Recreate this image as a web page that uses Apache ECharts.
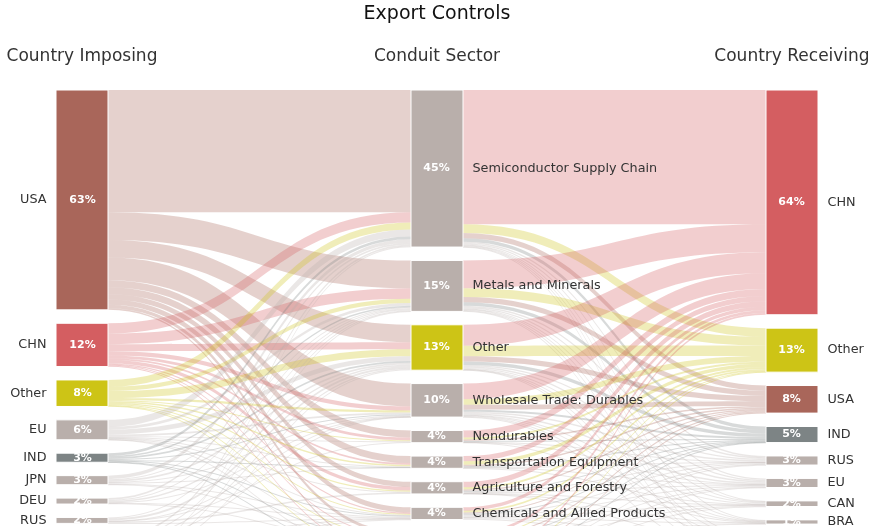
<!DOCTYPE html>
<html>
<head>
<meta charset="utf-8">
<script src="https://cdn.jsdelivr.net/npm/echarts@6/dist/echarts.min.js"></script>
<style>html,body{margin:0;padding:0;background:#fff}#c{width:874px;height:526px}</style>
</head>
<body>
<div id="c"></div>
<script>
// Column 1: country imposing (share, %)
const imposing = ['USA', 'CHN', 'Other', 'EU', 'IND', 'JPN', 'DEU', 'RUS', 'GBR', 'KOR'];
const imposingShare = [63, 12.4, 7.6, 5.7, 2.6, 2.6, 1.7, 1.7, 1.5, 1.2];
// Column 2: conduit sector
const sectors = ['Semiconductor Supply Chain', 'Metals and Minerals', 'Other', 'Wholesale Trade: Durables',
  'Nondurables', 'Transportation Equipment', 'Agriculture and Forestry', 'Chemicals and Allied Products',
  'Machinery', 'Computers and Electronics'];
const sectorShare = [45, 14.6, 13, 9.6, 3.5, 3.5, 3.5, 3.5, 2.2, 1.6];
// Column 3: country receiving
const receiving = ['CHN', 'Other', 'USA', 'IND', 'RUS', 'EU', 'CAN', 'BRA', 'IRN', 'PRK'];
const receivingShare = [64.4, 12.6, 7.9, 4.6, 2.6, 2.6, 1.6, 1.2, 1.4, 1.1];

// Flows imposing -> sector (rows: imposing, cols: sectors)
const flowImpSec = [
  [35, 8, 5, 6.5, 2, 2, 1.5, 1.5, 1, 0.5],
  [3, 3, 2, 1.2, 0.8, 0.5, 1, 0.4, 0.3, 0.2],
  [2, 1.2, 2, 0.6, 0.3, 0.4, 0.4, 0.3, 0.2, 0.2],
  [2, 0.8, 1.4, 0.5, 0.2, 0.2, 0.2, 0.2, 0.1, 0.1],
  [0.8, 0.4, 0.5, 0.3, 0, 0.1, 0, 0.3, 0.1, 0.1],
  [1, 0.3, 0.5, 0.2, 0, 0.3, 0, 0.2, 0.1, 0],
  [0.5, 0.3, 0.4, 0.1, 0, 0, 0, 0.2, 0.2, 0],
  [0, 0.3, 0.6, 0.1, 0.2, 0, 0.4, 0.1, 0, 0],
  [0.5, 0.2, 0.3, 0.1, 0, 0, 0, 0.2, 0.1, 0.1],
  [0.2, 0.1, 0.3, 0, 0, 0, 0, 0.1, 0.1, 0.4]
];
// Flows sector -> receiving (rows: sectors, cols: receiving)
const flowSecRec = [
  [38.5, 2.5, 1.5, 1, 0.4, 0.4, 0.2, 0.2, 0.2, 0.1],
  [8, 2.5, 1.5, 1, 0.4, 0.4, 0.2, 0.2, 0.2, 0.2],
  [6, 3, 1.5, 1, 0.4, 0.4, 0.3, 0.1, 0.2, 0.1],
  [4.5, 1.6, 1.4, 0.6, 0.4, 0.4, 0.2, 0.2, 0.2, 0.1],
  [2, 0.6, 0.4, 0.2, 0.1, 0.1, 0, 0.1, 0, 0],
  [1.5, 1, 0.4, 0.2, 0.1, 0.2, 0.1, 0, 0, 0],
  [1.6, 0.6, 0.4, 0.2, 0.2, 0.2, 0.1, 0.1, 0.1, 0],
  [1, 0.5, 0.3, 0.2, 0.3, 0.3, 0.2, 0.2, 0.3, 0.2],
  [0.8, 0.2, 0.3, 0.1, 0.2, 0.1, 0.2, 0.1, 0.1, 0.1],
  [0.5, 0.1, 0.2, 0.1, 0.1, 0.1, 0.1, 0, 0.1, 0.3]
];

const colorOf = {
  USA: '#a9665a', CHN: '#d45e61', Other: '#cdc416', IND: '#7d8485'
};
const taupe = '#b9afab';
const FONT = 'DejaVu Sans';

const pct = v => Math.round(v) + '%';
const nodes = [];
imposing.forEach((n, i) => nodes.push({
  name: 'L|' + n, value: imposingShare[i],
  itemStyle: { color: colorOf[n] || taupe },
  label: { position: 'insideRight', formatter: '{nl|' + n + '}{p|' + pct(imposingShare[i]) + '}' }
}));
sectors.forEach((n, i) => nodes.push({
  name: 'M|' + n, value: sectorShare[i],
  itemStyle: { color: n === 'Other' ? colorOf.Other : taupe },
  label: { position: 'insideLeft', formatter: '{p|' + pct(sectorShare[i]) + '}{nr|' + n + '}' }
}));
receiving.forEach((n, i) => nodes.push({
  name: 'R|' + n, value: receivingShare[i],
  itemStyle: { color: colorOf[n] || taupe },
  label: { position: 'insideLeft', formatter: '{p|' + pct(receivingShare[i]) + '}{nr|' + n + '}' }
}));

const links = [];
flowImpSec.forEach((row, i) => row.forEach((v, j) => {
  if (v > 0) links.push({ source: 'L|' + imposing[i], target: 'M|' + sectors[j], value: v,
    lineStyle: { color: colorOf[imposing[i]] || taupe } });
}));
flowSecRec.forEach((row, i) => row.forEach((v, j) => {
  if (v > 0) links.push({ source: 'M|' + sectors[i], target: 'R|' + receiving[j], value: v,
    lineStyle: { color: colorOf[receiving[j]] || taupe } });
}));

const chart = echarts.init(document.getElementById('c'), null, { renderer: 'canvas' });
chart.setOption({
  animation: false,
  backgroundColor: '#fff',
  title: [
    { text: 'Export Controls', left: 437, top: 5, padding: 0, textAlign: 'center',
      textStyle: { fontFamily: FONT, fontSize: 19, fontWeight: 'normal', color: '#111' } },
    { text: 'Country Imposing', left: 82, top: 48, padding: 0, textAlign: 'center',
      textStyle: { fontFamily: FONT, fontSize: 17, fontWeight: 'normal', color: '#333' } },
    { text: 'Conduit Sector', left: 437, top: 48, padding: 0, textAlign: 'center',
      textStyle: { fontFamily: FONT, fontSize: 17, fontWeight: 'normal', color: '#333' } },
    { text: 'Country Receiving', left: 792, top: 48, padding: 0, textAlign: 'center',
      textStyle: { fontFamily: FONT, fontSize: 17, fontWeight: 'normal', color: '#333' } }
  ],
  series: [{
    type: 'sankey',
    left: 56, right: 56, top: 90, bottom: -33.6,
    nodeWidth: 52,
    nodeGap: 13.4,
    layoutIterations: 0,
    nodeAlign: 'justify',
    draggable: false,
    emphasis: { disabled: true },
    data: nodes,
    links: links,
    itemStyle: { borderColor: '#fff', borderWidth: 1 },
    lineStyle: { opacity: 0.3, curveness: 0.5 },
    label: {
      show: true,
      distance: 0,
      fontFamily: FONT,
      rich: {
        p: { width: 52, align: 'center', color: '#fff', fontWeight: 'bold', fontSize: 11, fontFamily: FONT },
        nl: { color: '#333', fontSize: 12.8, fontFamily: FONT, padding: [0, 10, 0, 0] },
        nr: { color: '#333', fontSize: 12.8, fontFamily: FONT, padding: [0, 0, 0, 10] }
      }
    }
  }]
});
</script>
</body>
</html>
